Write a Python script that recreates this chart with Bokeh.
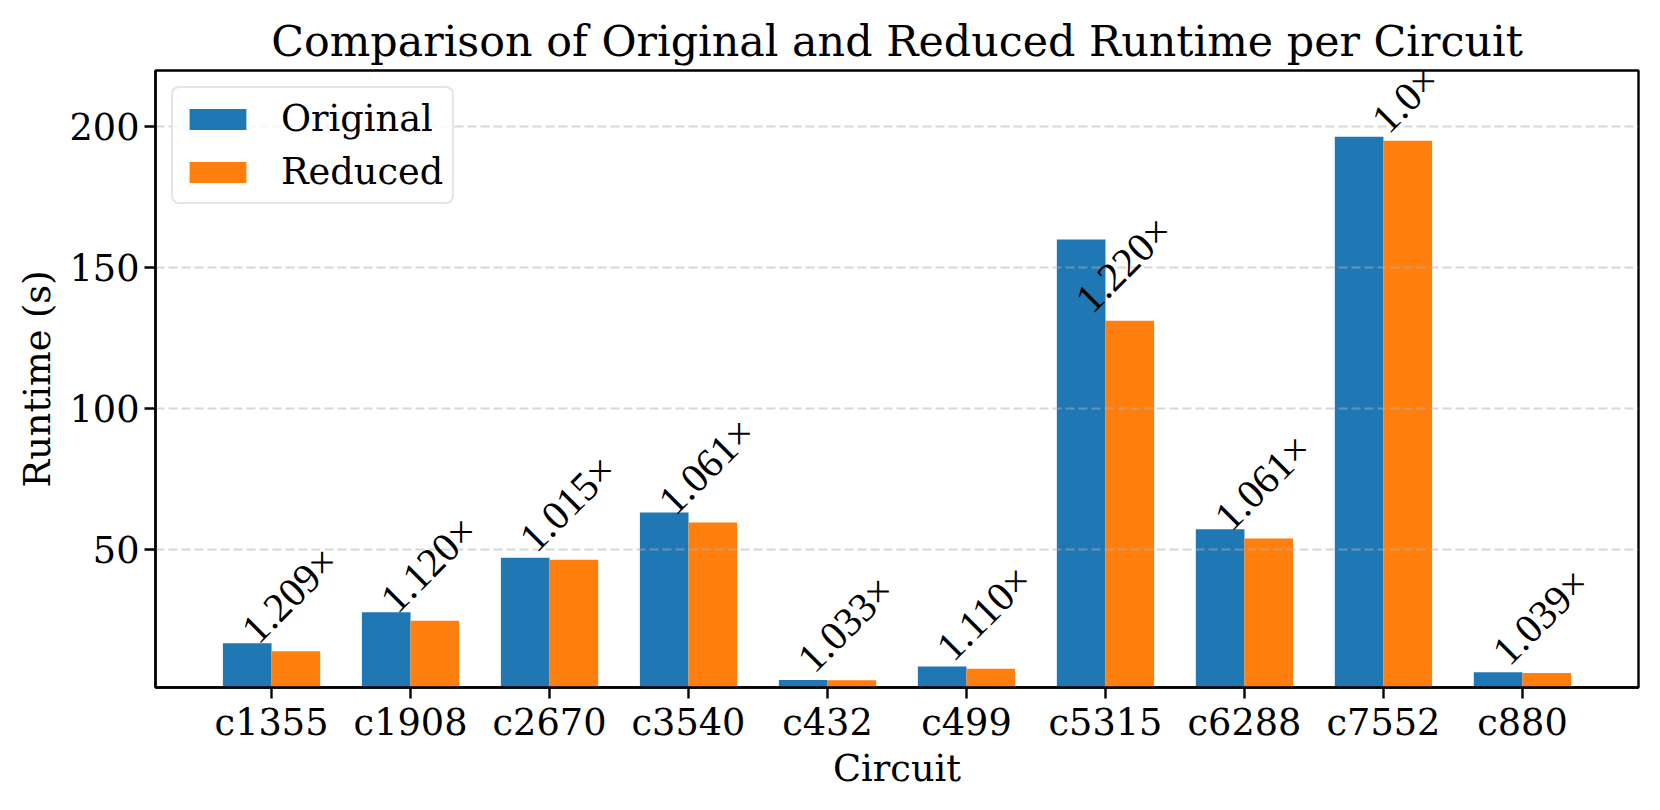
import math
import numpy as np
from bokeh.plotting import figure
from bokeh.models import (ColumnDataSource, Range1d, FixedTicker, Legend, LegendItem,
                          LabelSet)
from bokeh.transform import dodge
from bokeh.embed import file_html
from bokeh.resources import INLINE

# ---- data ----
circuits = ["c1355", "c1908", "c2670", "c3540", "c432", "c499", "c5315", "c6288", "c7552", "c880"]
original = [16.5, 27.5, 46.9, 63.0, 3.5, 8.25, 160.0, 57.0, 196.5, 6.2]
reduced = [13.65, 24.55, 46.2, 59.4, 3.39, 7.43, 131.1, 53.7, 195.0, 5.97]
speedup_labels = ["1.209×", "1.120×", "1.015×", "1.061×", "1.033×",
                  "1.110×", "1.220×", "1.061×", "1.0×", "1.039×"]
y_ticks = [50, 100, 150, 200]

FONT = "DejaVu Serif"
FS_STR = "36.7px"
ANN_FS = 41.0
BLUE = "#1f77b4"
ORANGE = "#ff7f0e"
BAR_W = 0.35

X0, X1 = -0.835, 9.835
Y0, Y1 = 0.8, 220.0
FRAME_W, FRAME_H = 1483, 617
PPX = FRAME_W / (X1 - X0)   # px per unit on x
PPU = FRAME_H / (Y1 - Y0)   # px per unit on y

# 45-degree labels: matplotlib centres the rotated bbox on the reduced bar, so the
# start of each label moves right as the label gets shorter.
CHAR_W = {d: 0.636 for d in "0123456789"}
CHAR_W.update({".": 0.318, "×": 0.838})
S2 = math.sqrt(2)
w_ref = sum(CHAR_W[c] for c in "1.209×") * ANN_FS
foot = 0.226 * ANN_FS  # baseline start -> foot of the leading "1" (rotated)
label_x, label_y = [], []
for i, (s, r) in enumerate(zip(speedup_labels, reduced)):
    w = sum(CHAR_W.get(c, 0.6) for c in s) * ANN_FS
    dx_px = -4.0 + (w_ref - w) / (2 * S2) - foot
    label_x.append(i + dx_px / PPX)
    label_y.append(r + (15.0 - foot) / PPU)

src = ColumnDataSource(dict(
    x=list(range(len(circuits))),
    original=original,
    reduced=reduced,
))
lab_src = ColumnDataSource(dict(lx=label_x, ly=label_y, label=speedup_labels))

p = figure(
    output_backend="svg",
    toolbar_location=None,
    frame_width=FRAME_W,
    frame_height=FRAME_H,
    min_border_left=155,
    min_border_right=6,
    min_border_top=70,
    min_border_bottom=107,
    x_range=Range1d(X0, X1),
    y_range=Range1d(Y0, Y1),
    title="Comparison of Original and Reduced Runtime per Circuit",
    background_fill_color="white",
    border_fill_color="white",
)

r_orig = p.vbar(x=dodge("x", -BAR_W / 2), top="original", bottom=0, width=BAR_W,
                source=src, fill_color=BLUE, line_color=None, level="image")
r_red = p.vbar(x=dodge("x", BAR_W / 2), top="reduced", bottom=0, width=BAR_W,
               source=src, fill_color=ORANGE, line_color=None, level="image")

labels = LabelSet(x="lx", y="ly", text="label", source=lab_src,
                  angle=math.pi / 4, text_align="left", text_baseline="alphabetic",
                  text_font=FONT, text_font_size=f"{ANN_FS}px", text_color="black")
p.add_layout(labels)

# title
p.title.text_font = FONT
p.title.text_font_size = "42.8px"
p.title.text_font_style = "normal"
p.title.align = "center"
p.title.text_color = "black"
p.title.standoff = 9

# axes
p.xaxis.ticker = FixedTicker(ticks=list(range(len(circuits))))
p.xaxis.major_label_overrides = {i: c for i, c in enumerate(circuits)}
p.yaxis.ticker = FixedTicker(ticks=y_ticks)
p.xaxis.axis_label = "Circuit"
p.yaxis.axis_label = "Runtime (s)"
for ax in (p.xaxis[0], p.yaxis[0]):
    ax.axis_label_text_font = FONT
    ax.axis_label_text_font_size = FS_STR
    ax.axis_label_text_font_style = "normal"
    ax.axis_label_text_color = "black"
    ax.major_label_text_font = FONT
    ax.major_label_text_font_size = FS_STR
    ax.major_label_text_color = "black"
    ax.axis_line_color = "black"
    ax.axis_line_width = 2.4
    ax.major_tick_line_color = "black"
    ax.major_tick_line_width = 2.4
    ax.major_tick_out = 11
    ax.major_tick_in = 0
    ax.minor_tick_line_color = None
p.xaxis.major_label_standoff = 2
p.xaxis.axis_label_standoff = 0
p.yaxis.major_label_standoff = 5
p.yaxis.axis_label_standoff = 7

p.outline_line_color = "black"
p.outline_line_width = 2.4
p.outline_line_alpha = 1.0

# grid (drawn above the bars, as in matplotlib's default)
p.xgrid.visible = False
p.ygrid.grid_line_color = "#b0b0b0"
p.ygrid.grid_line_alpha = 0.5
p.ygrid.grid_line_width = 2.2
p.ygrid.grid_line_dash = "9 4"
p.ygrid.level = "underlay"

# legend
legend = Legend(items=[LegendItem(label="Original", renderers=[r_orig]),
                       LegendItem(label="Reduced", renderers=[r_red])],
                location="top_left")
legend.label_text_font = FONT
legend.label_text_font_size = FS_STR
legend.label_text_color = "black"
legend.glyph_width = 71
legend.glyph_height = 26
legend.label_standoff = 28
legend.spacing = 10
legend.padding = 9
legend.margin = 16
legend.border_line_color = "#cccccc"
legend.border_line_width = 2
legend.background_fill_alpha = 0.8
if "border_radius" in Legend.properties():
    legend.border_radius = 8
p.add_layout(legend)

open("out.html", "w").write(file_html(p, INLINE))
